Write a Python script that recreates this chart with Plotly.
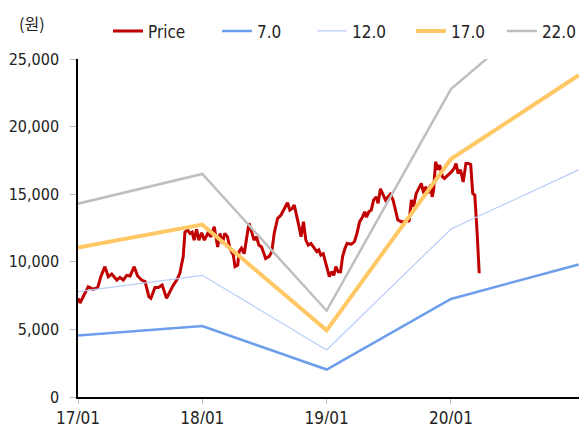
import plotly.graph_objects as go

# PER band dates and band values (won)
band_dates = ["2017-01-01", "2018-01-01", "2019-01-01", "2020-01-01", "2021-01-10"]
band_7 = [4550, 5250, 2030, 7250, 9800]
band_12 = [7800, 9000, 3480, 12420, 16800]
band_17 = [11050, 12750, 4930, 17600, 23800]
band_22 = [14300, 16500, 6380, 22770, 30800]

price_dates = [
    "2017-01-02", "2017-01-07", "2017-01-31", "2017-02-15", "2017-02-28", "2017-03-09", "2017-03-21",
    "2017-03-31", "2017-04-10", "2017-04-25", "2017-05-04", "2017-05-14", "2017-05-24", "2017-06-03",
    "2017-06-15", "2017-06-25", "2017-07-07", "2017-07-17", "2017-07-28", "2017-08-03", "2017-08-15",
    "2017-08-25", "2017-09-05", "2017-09-18", "2017-09-28", "2017-10-08", "2017-10-18", "2017-10-27",
    "2017-11-06", "2017-11-11", "2017-11-19", "2017-11-26", "2017-12-02", "2017-12-08", "2017-12-15",
    "2017-12-22", "2017-12-30", "2018-01-07", "2018-01-18", "2018-01-26", "2018-02-05", "2018-02-15",
    "2018-02-22", "2018-03-01", "2018-03-08", "2018-03-16", "2018-03-23", "2018-04-02", "2018-04-07",
    "2018-04-15", "2018-04-19", "2018-04-26", "2018-05-04", "2018-05-11", "2018-05-18", "2018-05-26",
    "2018-06-02", "2018-06-09", "2018-06-16", "2018-06-24", "2018-06-29", "2018-07-06", "2018-07-16",
    "2018-07-24", "2018-07-31", "2018-08-10", "2018-08-20", "2018-08-29", "2018-09-08", "2018-09-15",
    "2018-09-22", "2018-09-28", "2018-10-05", "2018-10-12", "2018-10-18", "2018-10-25", "2018-11-01",
    "2018-11-08", "2018-11-16", "2018-11-26", "2018-12-03", "2018-12-09", "2018-12-15", "2018-12-22",
    "2018-12-27", "2019-01-03", "2019-01-09", "2019-01-16", "2019-01-22", "2019-01-28", "2019-02-04",
    "2019-02-11", "2019-02-17", "2019-02-24", "2019-03-02", "2019-03-15", "2019-03-24", "2019-03-31",
    "2019-04-08", "2019-04-16", "2019-04-23", "2019-04-28", "2019-05-05", "2019-05-12", "2019-05-19",
    "2019-05-27", "2019-06-01", "2019-06-08", "2019-06-15", "2019-06-23", "2019-06-30", "2019-07-07",
    "2019-07-15", "2019-07-23", "2019-07-29", "2019-08-08", "2019-08-18", "2019-08-25", "2019-08-31",
    "2019-09-07", "2019-09-13", "2019-09-21", "2019-09-29", "2019-10-06", "2019-10-13", "2019-10-19",
    "2019-10-26", "2019-11-02", "2019-11-07", "2019-11-11", "2019-11-17", "2019-11-24", "2019-11-29",
    "2019-12-07", "2019-12-13", "2019-12-23", "2020-01-03", "2020-01-10", "2020-01-16", "2020-01-22",
    "2020-01-29", "2020-02-06", "2020-02-14", "2020-02-21", "2020-02-28", "2020-03-05", "2020-03-11",
    "2020-03-18", "2020-03-24",
]
price_values = [
    7300, 6950, 8160, 7970, 8100, 8900, 9640,
    8900, 9100, 8650, 8850, 8650, 9000, 8950,
    9640, 8950, 8650, 8530, 7420, 7300, 8100,
    8100, 8280, 7300, 7790, 8280, 8650, 9150,
    10400, 12200, 12350, 12100, 12200, 11600, 12400,
    11600, 12150, 11600, 12150, 11850, 12600, 11100,
    12100, 11360, 12100, 11850, 11000, 10500, 9640,
    9760, 10750, 11000, 10600, 11600, 12850, 12200,
    11600, 11850, 11240, 11100, 10750, 10250, 10400,
    10750, 12100, 13200, 13460, 13950, 14370, 13830,
    13950, 14200, 13460, 12600, 11850, 12970, 11600,
    11240, 11360, 11000, 10750, 10870, 10500, 10600,
    10100, 9400, 8900, 9270, 9000, 9640, 9270,
    9270, 10400, 11000, 11360, 11300, 11500, 12100,
    12970, 13300, 13700, 13300, 13700, 13830, 14570,
    14800, 14330, 15400, 15060, 14570, 14800, 15000,
    14570, 13700, 13100, 12970, 12970, 13100, 12970,
    14570, 14070, 15060, 15400, 15800, 15060, 15550,
    15060, 15680, 14800, 15300, 17400, 16800, 17160,
    16300, 16170, 16400, 16670, 16900, 17270, 16540,
    16800, 15900, 17270, 17270, 17200, 15060, 14940,
    12100, 9150,
]

y_ticks = [0, 5000, 10000, 15000, 20000, 25000]
x_ticks = ["2017-01-01", "2018-01-01", "2019-01-01", "2020-01-01"]
x_tick_labels = ["17/01", "18/01", "19/01", "20/01"]

FONT = "DejaVu Sans Condensed, Liberation Sans Narrow, Liberation Sans, sans-serif"

series = [
    ("Price", price_dates, price_values, dict(color="#C00000", width=3), "legend"),
    ("7.0", band_dates, band_7, dict(color="#6D9EEB", width=2.5), "legend2"),
    ("12.0", band_dates, band_12, dict(color="#B7CDF8", width=1.2), "legend3"),
    ("17.0", band_dates, band_17, dict(color="#FFC865", width=4), "legend4"),
    ("22.0", band_dates, band_22, dict(color="#BFBFBF", width=2.5), "legend5"),
]
legend_x = [0.1727, 0.3610, 0.5250, 0.6960, 0.8530]

fig = go.Figure()
for name, xs, ys, line, lg in series:
    fig.add_trace(go.Scatter(x=xs, y=ys, name=name, mode="lines", line=line, legend=lg))

legend_common = dict(orientation="h", xref="container", yref="container",
                     y=0.987, xanchor="left", yanchor="top",
                     font=dict(family=FONT, size=17, color="#222222"),
                     bgcolor="rgba(0,0,0,0)")
legends = {}
for s, lx in zip(series, legend_x):
    legends[s[4]] = dict(legend_common, x=lx)

# page body has an 8px default margin, so the figure is sized/offset to compensate
fig.update_layout(
    width=579, height=416,
    margin=dict(l=70, r=8, t=51, b=27, autoexpand=False),
    paper_bgcolor="white", plot_bgcolor="white",
    font=dict(family=FONT, size=16, color="#222222"),
    showlegend=True,
    annotations=[dict(text="(원)", xref="paper", yref="paper",
                      x=-0.122, y=1.148, xanchor="left", yanchor="top",
                      showarrow=False, font=dict(family="Noto Sans CJK KR", size=16, color="#222222"))],
    **legends,
)
fig.update_xaxes(
    type="date", range=["2017-01-01", "2021-01-11"],
    tickvals=x_ticks, ticktext=x_tick_labels, automargin=False,
    showgrid=False, zeroline=False,
    showline=True, linecolor="black", linewidth=1.5,
    ticks="outside", ticklen=5, tickcolor="#BBBBBB", tickwidth=1,
    tickfont=dict(family=FONT, size=17, color="#222222"),
)
fig.update_yaxes(
    range=[0, 25000], tickvals=y_ticks, tickformat=",", automargin=False,
    showgrid=False, zeroline=False,
    showline=True, linecolor="black", linewidth=1.5,
    ticks="outside", ticklen=6, tickcolor="#BBBBBB", tickwidth=1,
    ticklabelstandoff=8,
    tickfont=dict(family=FONT, size=16, color="#222222"),
)

fig.write_html("out.html")
